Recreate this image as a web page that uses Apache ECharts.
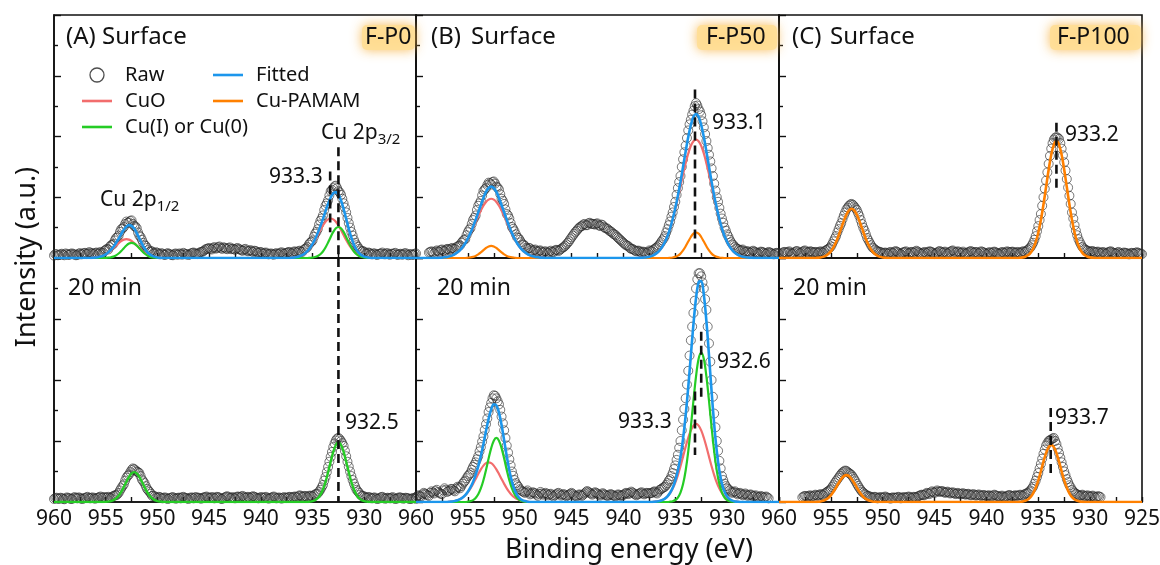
<!DOCTYPE html>
<html><head><meta charset="utf-8">
<script src="https://cdn.jsdelivr.net/npm/echarts/dist/echarts.min.js"></script>
<style>html,body{margin:0;padding:0;background:#fff}#c{width:1160px;height:565px}</style>
</head><body><div id="c"></div>
<script>
// Energy grid: 960 eV down to 925 eV, 0.25 eV per sample (141 samples).
// "mid" raw arrays are the readings half-way between grid samples (140 samples).
const E_START = 960, E_STEP = 0.25, E_MID = 0.125;
const xTicks = [960, 955, 950, 945, 940, 935, 930, 925];

// ---------- (A) F-P0 surface ----------
const rawA_s = [
.08,.12,.1,.14,.09,.13,.11,.15,.12,.1,
.16,.13,.17,.14,.18,.15,.17,.13,.2,.18,
.27,.28,.42,.47,.66,.74,.95,1.02,1.2,1.17,
1.24,1.05,.98,.74,.6,.42,.33,.2,.21,.15,
.17,.12,.14,.1,.16,.12,.09,.15,.11,.13,
.17,.12,.1,.15,.18,.14,.16,.2,.24,.3,
.33,.28,.36,.32,.38,.3,.34,.29,.35,.31,
.27,.33,.28,.24,.3,.22,.26,.2,.23,.17,
.2,.14,.18,.12,.15,.11,.16,.13,.19,.14,
.17,.2,.15,.22,.18,.24,.2,.3,.36,.5,
.58,.8,.95,1.22,1.4,1.72,1.9,2.2,2.3,2.38,
2.2,2.08,1.8,1.5,1.15,.86,.6,.42,.3,.22,
.2,.14,.17,.12,.15,.1,.14,.18,.12,.16,
.11,.13,.17,.1,.14,.12,.16,.09,.13,.11,
.15];
const midA_s = [
.13,.09,.12,.11,.15,.1,.14,.12,.09,.14,
.12,.16,.13,.19,.15,.13,.18,.16,.16,.24,
.3,.36,.43,.58,.68,.86,.97,1.12,1.16,1.22,
1.12,1.04,.84,.69,.5,.4,.26,.23,.16,.19,
.13,.16,.11,.14,.13,.1,.13,.12,.15,.11,
.14,.13,.12,.17,.15,.13,.19,.21,.28,.31,
.3,.33,.31,.36,.33,.35,.31,.33,.29,.3,
.31,.29,.25,.28,.25,.24,.22,.24,.19,.19,
.16,.17,.14,.14,.12,.14,.13,.17,.15,.16,
.19,.17,.19,.2,.22,.21,.26,.32,.44,.53,
.7,.86,1.1,1.3,1.58,1.8,2.06,2.24,2.36,2.3,
2.16,1.95,1.66,1.32,1.0,.74,.5,.37,.25,.23,
.16,.18,.13,.15,.12,.13,.15,.13,.15,.12,
.14,.15,.12,.13,.11,.15,.12,.12,.1,.14];
const fitA_s = [
0,0,0,0,0,0,0,0,0,0,
0,0,0,0,0,.008,.015,.027,.047,.076,
.122,.185,.267,.371,.496,.640,.788,.927,1.032,1.081,
1.059,.968,.822,.647,.474,.323,.204,.122,.069,.037,
.019,.008,0,0,0,0,0,0,0,0,
0,0,0,0,0,0,0,0,0,0,
0,0,0,0,0,0,0,0,0,0,
0,0,0,0,0,0,0,0,0,0,
0,0,0,0,0,0,0,0,0,0,
0,0,.01,.018,.033,.057,.094,.148,.224,.330,
.462,.626,.819,1.041,1.285,1.538,1.784,1.992,2.131,2.169,
2.090,1.896,1.613,1.287,.960,.670,.439,.270,.158,.088,
.046,.024,.01,0,0,0,0,0,0,0,
0,0,0,0,0,0,0,0,0,0,
0];
const cuoA_s = [
0,0,0,0,0,0,0,0,0,0,
0,0,0,0,0,.008,.015,.027,.047,.076,
.118,.175,.245,.325,.410,.492,.559,.605,.62,.605,
.559,.492,.410,.325,.245,.175,.118,.076,.047,.027,
.015,.008,0,0,0,0,0,0,0,0,
0,0,0,0,0,0,0,0,0,0,
0,0,0,0,0,0,0,0,0,0,
0,0,0,0,0,0,0,0,0,0,
0,0,0,0,0,0,0,0,0,0,
0,0,.01,.018,.033,.057,.094,.148,.224,.324,
.449,.595,.755,.919,1.070,1.192,1.273,1.3,1.273,1.192,
1.070,.919,.755,.595,.449,.324,.224,.148,.094,.057,
.033,.018,.01,0,0,0,0,0,0,0,
0,0,0,0,0,0,0,0,0,0,
0];
const cuiA_s = [
0,0,0,0,0,0,0,0,0,0,
0,0,0,0,0,0,0,0,0,0,
.004,.010,.022,.046,.086,.148,.229,.322,.412,.476,
.5,.476,.412,.322,.229,.148,.086,.046,.022,.010,
.004,0,0,0,0,0,0,0,0,0,
0,0,0,0,0,0,0,0,0,0,
0,0,0,0,0,0,0,0,0,0,
0,0,0,0,0,0,0,0,0,0,
0,0,0,0,0,0,0,0,0,0,
0,0,0,0,0,0,0,0,0,.006,
.013,.031,.064,.122,.215,.346,.511,.692,.858,.977,
1.02,.977,.858,.692,.511,.346,.215,.122,.064,.031,
.013,.006,0,0,0,0,0,0,0,0,
0,0,0,0,0,0,0,0,0,0,
0];

// ---------- (B) F-P50 surface ----------
const rawB_s = [
null,null,null,null,null,.18,.22,.15,.25,.2,
.28,.22,.3,.26,.33,.3,.38,.42,.55,.62,
.85,.98,1.25,1.4,1.72,1.88,2.2,2.3,2.48,2.42,
2.52,2.35,2.25,1.95,1.78,1.45,1.3,1.02,.88,.68,
.6,.45,.4,.3,.32,.22,.28,.2,.25,.18,
.22,.16,.24,.19,.27,.23,.3,.36,.45,.55,
.68,.8,.9,1.0,1.05,1.12,1.08,1.16,1.12,1.1,
1.14,1.05,1.08,.98,.95,.88,.8,.75,.66,.58,
.5,.42,.38,.3,.27,.22,.24,.18,.2,.16,
.25,.22,.3,.36,.45,.58,.72,.95,1.2,1.5,
1.85,2.3,2.7,3.25,3.7,4.2,4.55,4.85,5.1,4.9,
4.7,4.3,3.85,3.4,2.95,2.45,2.0,1.65,1.3,1.0,
.78,.6,.45,.36,.3,.24,.28,.2,.22,.17,
.24,.19,.15,.21,.18,.14,.2,.16,.12,.17,
.15];
const midB_s = [
null,null,null,null,null,.2,.19,.21,.22,.26,
.24,.27,.29,.31,.3,.35,.4,.5,.6,.75,
.93,1.12,1.32,1.58,1.8,2.06,2.26,2.4,2.46,2.5,
2.45,2.32,2.1,1.88,1.6,1.4,1.15,.96,.78,.66,
.52,.44,.34,.33,.26,.26,.23,.24,.2,.21,
.18,.21,.2,.24,.26,.27,.34,.4,.5,.62,
.74,.86,.96,1.04,1.1,1.08,1.14,1.13,1.12,1.13,
1.08,1.1,1.02,.98,.9,.85,.78,.7,.62,.54,
.46,.41,.33,.3,.24,.24,.2,.21,.17,.2,
.23,.27,.33,.41,.52,.64,.84,1.08,1.36,1.68,
2.08,2.5,3.0,3.48,3.95,4.4,4.72,5.0,5.02,4.82,
4.5,4.08,3.62,3.18,2.7,2.22,1.85,1.46,1.16,.9,
.7,.52,.42,.32,.28,.26,.23,.22,.19,.21,
.21,.17,.18,.2,.16,.17,.18,.14,.15,.16];
const fitB_s = [
0,0,0,0,0,0,0,0,0,.008,
.013,.022,.035,.056,.086,.128,.186,.263,.363,.486,
.642,.819,1.024,1.253,1.497,1.745,1.978,2.174,2.304,2.35,
2.304,2.174,1.978,1.745,1.497,1.253,1.024,.819,.642,.486,
.363,.263,.186,.128,.086,.056,.035,.022,.013,.008,
0,0,0,0,0,0,0,0,0,0,
0,0,0,0,0,0,0,0,0,0,
0,0,0,0,0,0,0,0,0,0,
0,0,0,0,0,0,.005,.008,.015,.026,
.043,.071,.112,.171,.256,.373,.527,.725,.977,1.284,
1.640,2.050,2.511,3.005,3.509,3.981,4.380,4.645,4.74,4.645,
4.380,3.981,3.509,3.005,2.511,2.050,1.640,1.284,.977,.725,
.527,.373,.256,.171,.112,.071,.043,.026,.015,.008,
.005,0,0,0,0,0,0,0,0,0,
0];
const cuoB_s = [
0,0,0,0,0,0,0,0,0,.008,
.013,.022,.035,.056,.086,.128,.186,.263,.363,.486,
.634,.801,.987,1.184,1.379,1.562,1.720,1.845,1.923,1.95,
1.923,1.845,1.720,1.562,1.379,1.184,.987,.801,.634,.486,
.363,.263,.186,.128,.086,.056,.035,.022,.013,.008,
0,0,0,0,0,0,0,0,0,0,
0,0,0,0,0,0,0,0,0,0,
0,0,0,0,0,0,0,0,0,0,
0,0,0,0,0,0,.005,.008,.015,.026,
.043,.071,.112,.171,.256,.373,.527,.725,.971,1.268,
1.603,1.973,2.367,2.757,3.124,3.440,3.689,3.845,3.9,3.845,
3.689,3.440,3.124,2.757,2.367,1.973,1.603,1.268,.971,.725,
.527,.373,.256,.171,.112,.071,.043,.026,.015,.008,
.005,0,0,0,0,0,0,0,0,0,
0];
const pamB_s = [
0,0,0,0,0,0,0,0,0,0,
0,0,0,0,0,0,0,0,0,0,
.008,.018,.037,.069,.118,.183,.258,.329,.381,.4,
.381,.329,.258,.183,.118,.069,.037,.018,.008,0,
0,0,0,0,0,0,0,0,0,0,
0,0,0,0,0,0,0,0,0,0,
0,0,0,0,0,0,0,0,0,0,
0,0,0,0,0,0,0,0,0,0,
0,0,0,0,0,0,0,0,0,0,
0,0,0,0,0,0,0,0,.006,.016,
.037,.077,.144,.248,.385,.541,.691,.8,.84,.8,
.691,.541,.385,.248,.144,.077,.037,.016,.006,0,
0,0,0,0,0,0,0,0,0,0,
0,0,0,0,0,0,0,0,0,0,
0];

// ---------- (C) F-P100 surface ----------
const rawC_s = [
null,.15,.2,.17,.22,.14,.19,.23,.16,.2,
.25,.18,.22,.19,.2,.17,.22,.18,.25,.3,
.38,.55,.72,.95,1.15,1.4,1.6,1.72,1.78,1.7,
1.58,1.38,1.12,.9,.66,.5,.35,.28,.22,.2,
.15,.18,.14,.2,.16,.23,.18,.13,.19,.22,
.15,.2,.17,.24,.18,.14,.2,.16,.22,.19,
.13,.18,.23,.17,.21,.15,.2,.25,.18,.22,
.16,.21,.14,.19,.23,.17,.2,.15,.22,.18,
.13,.19,.16,.21,.17,.14,.2,.16,.22,.18,
.21,.17,.2,.16,.22,.2,.27,.35,.5,.72,
1.05,1.45,2.0,2.55,3.1,3.6,3.9,3.98,3.92,3.6,
3.15,2.6,2.05,1.5,1.08,.75,.52,.36,.28,.24,
.2,.23,.18,.21,.16,.2,.14,.19,.22,.17,
.15,.2,.13,.18,.16,.12,.17,.14,.19,.15,
.13];
const midC_s = [
null,.18,.19,.2,.17,.16,.22,.19,.18,.23,
.21,.2,.21,.18,.19,.2,.19,.22,.27,.33,
.46,.64,.84,1.06,1.28,1.5,1.66,1.76,1.75,1.64,
1.48,1.25,1.0,.78,.58,.42,.32,.25,.21,.18,
.17,.16,.18,.18,.2,.2,.15,.17,.2,.18,
.18,.19,.21,.21,.16,.17,.18,.2,.21,.16,
.16,.21,.2,.19,.18,.18,.23,.21,.2,.19,
.18,.17,.17,.21,.2,.19,.18,.19,.2,.16,
.16,.18,.19,.19,.15,.17,.18,.19,.2,.2,
.19,.18,.18,.19,.21,.24,.31,.42,.6,.88,
1.25,1.72,2.28,2.82,3.36,3.78,3.96,3.96,3.78,3.38,
2.88,2.32,1.78,1.3,.9,.62,.44,.32,.26,.22,
.22,.2,.2,.18,.18,.17,.17,.21,.19,.16,
.18,.16,.15,.17,.14,.15,.16,.17,.17,.14];
const pamC_s = [
0,0,0,0,0,0,0,0,0,0,
0,0,0,0,0,.008,.018,.037,.071,.129,
.219,.350,.527,.742,.983,1.223,1.429,1.570,1.62,1.570,
1.429,1.223,.983,.742,.527,.350,.219,.129,.071,.037,
.018,.008,0,0,0,0,0,0,0,0,
0,0,0,0,0,0,0,0,0,0,
0,0,0,0,0,0,0,0,0,0,
0,0,0,0,0,0,0,0,0,0,
0,0,0,0,0,0,0,0,0,0,
0,0,0,.008,.02,.043,.088,.169,.306,.520,
.832,1.251,1.763,2.337,2.907,3.396,3.731,3.85,3.731,3.396,
2.907,2.337,1.763,1.251,.832,.520,.306,.169,.088,.043,
.02,.008,0,0,0,0,0,0,0,0,
0,0,0,0,0,0,0,0,0,0,
0];

// ---------- (A) F-P0 20 min ----------
const rawA_20 = [
.1,.14,.11,.13,.09,.15,.12,.1,.16,.12,
.14,.1,.13,.17,.12,.15,.11,.14,.18,.15,
.14,.17,.13,.2,.22,.3,.45,.58,.8,.9,
1.05,1.08,1.0,.95,.74,.62,.43,.33,.2,.18,
.14,.16,.12,.15,.1,.13,.16,.11,.14,.12,
.17,.13,.1,.15,.12,.16,.14,.11,.15,.18,
.13,.16,.12,.17,.14,.1,.15,.19,.13,.16,
.12,.18,.15,.2,.14,.17,.13,.19,.15,.12,
.16,.13,.17,.11,.14,.18,.12,.15,.11,.16,
.13,.17,.14,.18,.15,.22,.17,.2,.16,.21,
.18,.25,.28,.4,.56,.82,1.15,1.48,1.8,2.02,
2.1,2.0,1.84,1.5,1.16,.85,.6,.4,.3,.2,
.18,.14,.16,.12,.15,.1,.13,.17,.11,.14,
.12,.16,.1,.13,.15,.11,.14,.12,.1,.13,
.11];
const midA_20 = [
.13,.11,.14,.1,.12,.13,.1,.14,.13,.15,
.11,.12,.15,.13,.14,.12,.13,.16,.14,.16,
.15,.14,.17,.22,.25,.38,.52,.7,.86,.98,
1.1,1.04,.98,.85,.68,.52,.38,.27,.21,.15,
.17,.13,.14,.12,.12,.15,.13,.12,.14,.15,
.14,.12,.13,.14,.15,.13,.12,.14,.16,.15,
.14,.15,.14,.16,.11,.13,.17,.16,.14,.14,
.16,.17,.18,.16,.15,.15,.17,.17,.13,.14,
.15,.15,.13,.13,.16,.15,.13,.13,.14,.14,
.15,.16,.16,.17,.19,.2,.18,.19,.19,.2,
.22,.27,.34,.48,.7,.98,1.32,1.64,1.92,2.08,
2.06,1.93,1.68,1.32,1.0,.72,.5,.35,.24,.2,
.15,.16,.13,.14,.12,.11,.16,.13,.12,.13,
.14,.12,.11,.15,.13,.12,.13,.1,.12,.12];
const cuiA_20 = [
0,0,0,0,0,0,0,0,0,0,
0,0,0,0,0,0,0,0,0,0,
.005,.013,.029,.062,.118,.207,.332,.491,.664,.824,
.939,.98,.939,.824,.664,.491,.332,.207,.118,.062,
.029,.013,.005,0,0,0,0,0,0,0,
0,0,0,0,0,0,0,0,0,0,
0,0,0,0,0,0,0,0,0,0,
0,0,0,0,0,0,0,0,0,0,
0,0,0,0,0,0,0,0,0,0,
0,0,0,0,0,0,0,0,0,.011,
.026,.059,.122,.234,.411,.661,.977,1.322,1.640,1.868,
1.95,1.868,1.640,1.322,.977,.661,.411,.234,.122,.059,
.026,.011,0,0,0,0,0,0,0,0,
0,0,0,0,0,0,0,0,0,0,
0];

// ---------- (B) F-P50 20 min ----------
const rawB_20 = [
.15,.22,.18,.3,.25,.2,.35,.28,.4,.3,
.26,.45,.33,.38,.42,.35,.5,.45,.6,.7,
.85,.95,1.15,1.3,1.5,1.8,2.15,2.55,2.95,3.25,
3.5,3.4,3.2,2.8,2.35,1.85,1.4,1.0,.72,.55,
.42,.35,.3,.38,.25,.32,.28,.2,.33,.24,
.3,.22,.27,.18,.25,.3,.21,.26,.19,.24,
.3,.22,.18,.25,.2,.28,.36,.3,.24,.32,
.27,.21,.29,.23,.2,.26,.22,.18,.25,.2,
.23,.3,.26,.34,.28,.22,.27,.32,.25,.3,
.28,.3,.35,.28,.4,.45,.5,.62,.75,.95,
1.2,1.55,2.0,2.7,3.4,4.3,5.3,6.2,7.0,7.5,
7.4,7.0,6.3,5.2,4.0,2.9,2.0,1.35,.85,.6,
.45,.38,.3,.35,.25,.3,.22,.28,.2,.25,
.18,.22,.15,.2,.14,.18,.12,null,null,null,
null];
const midB_20 = [
.2,.19,.25,.27,.22,.3,.31,.36,.33,.27,
.38,.4,.36,.43,.38,.44,.48,.52,.66,.78,
.9,1.06,1.22,1.4,1.66,1.98,2.36,2.74,3.1,3.4,
3.48,3.3,3.02,2.58,2.1,1.62,1.2,.86,.62,.5,
.38,.33,.34,.31,.28,.3,.24,.27,.28,.27,
.26,.25,.22,.22,.28,.25,.24,.22,.22,.27,
.26,.2,.22,.23,.24,.32,.33,.27,.28,.3,
.24,.25,.26,.21,.23,.24,.2,.22,.23,.22,
.27,.28,.3,.31,.25,.25,.3,.28,.28,.29,
.29,.33,.31,.34,.42,.48,.56,.7,.85,1.08,
1.38,1.78,2.35,3.05,3.85,4.8,5.75,6.6,7.3,7.5,
7.2,6.65,5.75,4.6,3.45,2.45,1.68,1.1,.72,.52,
.42,.34,.33,.3,.28,.26,.25,.24,.23,.22,
.2,.18,.17,.17,.16,.15,null,null,null,null];
const fitB_20 = [
0,0,0,0,0,0,0,0,0,0,
0,0,0,.01,.018,.033,.057,.094,.148,.224,
.335,.477,.658,.887,1.171,1.513,1.904,2.325,2.724,3.039,
3.204,3.170,2.931,2.521,2.019,1.501,1.036,.667,.400,.226,
.120,.061,.029,.01,0,0,0,0,0,0,
0,0,0,0,0,0,0,0,0,0,
0,0,0,0,0,0,0,0,0,0,
0,0,0,0,0,0,0,0,0,0,
0,0,0,0,0,0,0,0,0,0,
0,0,.01,.019,.036,.065,.112,.185,.302,.466,
.702,1.030,1.480,2.075,2.844,3.768,4.803,5.828,6.681,7.200,
7.248,6.801,5.931,4.809,3.627,2.544,1.671,1.028,.600,.332,
.177,.091,.046,.019,.01,0,0,0,0,0,
0,0,0,0,0,0,0,0,0,0,
0];
const cuoB_20 = [
0,0,0,0,0,0,0,0,0,0,
0,0,0,.01,.018,.033,.057,.094,.148,.224,
.324,.449,.595,.755,.919,1.070,1.192,1.273,1.3,1.273,
1.192,1.070,.919,.755,.595,.449,.324,.224,.148,.094,
.057,.033,.018,.01,0,0,0,0,0,0,
0,0,0,0,0,0,0,0,0,0,
0,0,0,0,0,0,0,0,0,0,
0,0,0,0,0,0,0,0,0,0,
0,0,0,0,0,0,0,0,0,0,
0,0,.01,.019,.036,.065,.112,.185,.292,.440,
.637,.883,1.172,1.487,1.810,2.107,2.348,2.506,2.56,2.506,
2.348,2.107,1.810,1.487,1.172,.883,.637,.440,.292,.185,
.112,.065,.036,.019,.01,0,0,0,0,0,
0,0,0,0,0,0,0,0,0,0,
0];
const cuiB_20 = [
0,0,0,0,0,0,0,0,0,0,
0,0,0,0,0,0,0,0,0,0,
.011,.028,.063,.132,.252,.443,.712,1.052,1.424,1.766,
2.012,2.1,2.012,1.766,1.424,1.052,.712,.443,.252,.132,
.063,.028,.011,0,0,0,0,0,0,0,
0,0,0,0,0,0,0,0,0,0,
0,0,0,0,0,0,0,0,0,0,
0,0,0,0,0,0,0,0,0,0,
0,0,0,0,0,0,0,0,0,0,
0,0,0,0,0,0,0,0,.01,.026,
.065,.147,.308,.588,1.034,1.661,2.455,3.322,4.121,4.694,
4.9,4.694,4.121,3.322,2.455,1.661,1.034,.588,.308,.147,
.065,.026,.01,0,0,0,0,0,0,0,
0,0,0,0,0,0,0,0,0,0,
0];

// ---------- (C) F-P100 20 min ----------
const rawC_20 = [
null,null,null,null,null,null,null,null,null,.15,
.2,.17,.22,.18,.24,.2,.26,.22,.3,.36,
.42,.55,.68,.8,.92,1.0,1.02,.95,.88,.75,
.6,.46,.34,.27,.2,.18,.14,.17,.12,.16,
.13,.18,.14,.11,.15,.13,.17,.12,.16,.14,
.18,.13,.17,.15,.2,.24,.22,.3,.26,.35,
.3,.38,.33,.36,.3,.34,.28,.32,.26,.3,
.25,.29,.24,.27,.22,.26,.21,.25,.2,.23,
.19,.22,.18,.24,.2,.17,.21,.16,.2,.23,
.18,.22,.2,.24,.2,.27,.3,.38,.5,.7,
.95,1.25,1.58,1.85,2.0,2.05,2.1,1.9,1.6,1.3,
1.0,.75,.55,.4,.3,.25,.2,.24,.18,.22,
.17,.21,.15,.19,.16,null,null,null,null,null,
null,null,null,null,null,null,null,null,null,null,
null];
const midC_20 = [
null,null,null,null,null,null,null,null,null,.18,
.19,.2,.19,.21,.22,.23,.24,.27,.33,.39,
.49,.62,.74,.86,.97,1.03,.98,.92,.82,.68,
.53,.4,.31,.24,.2,.16,.16,.15,.14,.15,
.16,.15,.13,.14,.14,.15,.15,.14,.15,.16,
.16,.15,.16,.18,.22,.23,.26,.28,.31,.32,
.34,.35,.35,.33,.32,.31,.3,.29,.28,.27,
.27,.26,.26,.24,.24,.23,.23,.22,.22,.21,
.21,.2,.21,.22,.19,.19,.18,.18,.22,.2,
.2,.21,.22,.22,.24,.28,.34,.44,.6,.82,
1.1,1.42,1.72,1.93,2.03,2.08,2.0,1.75,1.45,1.15,
.88,.65,.48,.35,.27,.22,.22,.21,.2,.19,
.19,.18,.17,.18,null,null,null,null,null,null,
null,null,null,null,null,null,null,null,null,null];
const pamC_20 = [
0,0,0,0,0,0,0,0,0,0,
0,0,0,0,0,.008,.019,.039,.075,.133,
.219,.335,.474,.622,.754,.847,.88,.847,.754,.622,
.474,.335,.219,.133,.075,.039,.019,.008,0,0,
0,0,0,0,0,0,0,0,0,0,
0,0,0,0,0,0,0,0,0,0,
0,0,0,0,0,0,0,0,0,0,
0,0,0,0,0,0,0,0,0,0,
0,0,0,0,0,0,0,0,0,0,
0,0,0,.007,.018,.039,.082,.158,.282,.466,
.712,1.008,1.322,1.603,1.799,1.87,1.799,1.603,1.322,1.008,
.712,.466,.282,.158,.082,.039,.018,.007,0,0,
0,0,0,0,0,0,0,0,0,0,
0,0,0,0,0,0,0,0,0,0,
0];

// Reference (dashed) lines: panel, energy, from intensity, to intensity
const refPanel = [0, 0, 3, 1, 4, 4, 2, 5];
const refEnergy = [932.5, 933.3, 932.5, 933.1, 932.5, 933.1, 933.25, 933.8];
const refFrom = [3.65, 2.85, 8, 5.55, 5.58, 3.62, 4.45, 3.08];
const refTo = [0, 0.85, 0, 0, 3.4, 1.54, 2.22, 0.89];

// ---------- styling / layout ----------
const FONT = 'Noto Sans';
const COL = { blue: '#1c96ec', red: '#f26d6d', green: '#25cc25', orange: '#ff8000' };
const colLeft = [54, 416, 779], colWidth = [362, 363, 363];
const rowTop = [15, 258], rowHeight = [243, 244];

function pairs(arr, offset) {
  const out = [];
  arr.forEach((v, i) => { if (v !== null) out.push([E_START - offset - E_STEP * i, v]); });
  return out;
}

const panels = [
  { raw: rawA_s, mid: midA_s, lines: [['Fitted', fitA_s, COL.blue, 2.6], ['CuO', cuoA_s, COL.red, 2.2], ['Cu(I) or Cu(0)', cuiA_s, COL.green, 2.2]] },
  { raw: rawB_s, mid: midB_s, lines: [['Fitted', fitB_s, COL.blue, 2.6], ['CuO', cuoB_s, COL.red, 2.2], ['Cu-PAMAM', pamB_s, COL.orange, 2.2]] },
  { raw: rawC_s, mid: midC_s, lines: [['Cu-PAMAM', pamC_s, COL.orange, 2.6]] },
  { raw: rawA_20, mid: midA_20, lines: [['Cu(I) or Cu(0)', cuiA_20, COL.green, 2.4]] },
  { raw: rawB_20, mid: midB_20, lines: [['Fitted', fitB_20, COL.blue, 2.6], ['CuO', cuoB_20, COL.red, 2.2], ['Cu(I) or Cu(0)', cuiB_20, COL.green, 2.2]] },
  { raw: rawC_20, mid: midC_20, lines: [['Cu-PAMAM', pamC_20, COL.orange, 2.6]] }
];

const rawStyle = { color: 'rgba(255,255,255,0)', borderColor: '#2a2a2a', borderWidth: 0.8 };
const grids = [], xAxes = [], yAxes = [], series = [];
for (let g = 0; g < 6; g++) {
  const r = Math.floor(g / 3), c = g % 3;
  grids.push({ left: colLeft[c], top: rowTop[r], width: colWidth[c], height: rowHeight[r],
    show: true, borderColor: '#111', borderWidth: 1.6, backgroundColor: 'transparent', outerBoundsMode: 'none', containLabel: false });
  xAxes.push({ type: 'value', gridIndex: g, min: 925, max: 960, interval: 5, inverse: true,
    axisLine: { show: true, onZero: false, lineStyle: { color: '#111', width: 1.6 } },
    axisTick: { show: true, inside: true, length: 5, lineStyle: { color: '#111', width: 1.4 } },
    minorTick: { show: true, splitNumber: 2, length: 5, lineStyle: { color: '#111', width: 1.4 } },
    splitLine: { show: false },
    axisLabel: { show: r === 1, showMinLabel: c === 2, fontSize: 21, color: '#111', fontFamily: FONT, margin: 7,
      formatter: v => (xTicks.indexOf(v) >= 0 ? String(v) : '') }
  });
  yAxes.push({ type: 'value', gridIndex: g, min: 0, max: 8, interval: 2,
    axisLine: { show: true, lineStyle: { color: '#111', width: 1.6 } },
    axisTick: { show: true, inside: true, length: 7, lineStyle: { color: '#111', width: 1.4 } },
    minorTick: { show: true, splitNumber: 2, length: 4, lineStyle: { color: '#111', width: 1.4 } },
    splitLine: { show: false }, axisLabel: { show: false }
  });
  const p = panels[g];
  series.push({ type: 'scatter', name: 'Raw', xAxisIndex: g, yAxisIndex: g, data: pairs(p.raw, 0),
    symbol: 'circle', symbolSize: 9, z: 2, silent: true, itemStyle: rawStyle });
  series.push({ type: 'scatter', name: 'Raw', xAxisIndex: g, yAxisIndex: g, data: pairs(p.mid, E_MID),
    symbol: 'circle', symbolSize: 9, z: 2, silent: true, itemStyle: rawStyle });
  p.lines.forEach(([name, arr, color, w], k) => {
    series.push({ type: 'line', name, xAxisIndex: g, yAxisIndex: g, data: pairs(arr, 0),
      symbol: 'none', showSymbol: false, smooth: 0.35, z: name === 'Fitted' ? 4 : 3 + k * 0.1, silent: true,
      lineStyle: { color, width: w }, itemStyle: { color } });
  });
}
refPanel.forEach((g, i) => {
  series.push({ type: 'line', name: 'ref' + i, xAxisIndex: g, yAxisIndex: g,
    data: [[refEnergy[i], refFrom[i]], [refEnergy[i], refTo[i]]],
    symbol: 'none', z: 6, silent: true, lineStyle: { color: '#111', width: 2.6, type: [9, 5] } });
});

// text annotations (layout)
const T = (text, x, y, size) => ({ type: 'text', x, y, z: 20, silent: true,
  style: { text, fill: '#111', fontSize: size, fontFamily: FONT, align: 'left', verticalAlign: 'middle' } });
const SUB = (main, sub, x, y) => ({ type: 'text', x, y, z: 20, silent: true,
  style: { text: '{a|' + main + '}{b|' + sub + '}', fill: '#111', align: 'left', verticalAlign: 'middle',
    rich: { a: { fontSize: 21, fontFamily: FONT, lineHeight: 28, fill: '#111' },
            b: { fontSize: 15, fontFamily: FONT, lineHeight: 15, verticalAlign: 'bottom', fill: '#111' } } } });
const GLOW = (x, y, w, h) => ({ type: 'rect', z: 15, silent: true, shape: { x, y, width: w, height: h, r: 5 },
  style: { fill: 'rgba(255,222,150,0.92)', shadowBlur: 12, shadowColor: 'rgba(247,178,66,0.95)' } });

const graphic = [
  GLOW(362, 25, 53, 25), GLOW(697, 25, 80, 25), GLOW(1050, 25, 91, 25),
  T('(A) Surface', 66, 37, 24), T('(B)', 431, 37, 24), T('Surface', 471, 37, 24),
  T('(C)', 792, 37, 24), T('Surface', 830, 37, 24),
  T('F-P0', 365, 37, 23), T('F-P50', 706, 37, 23), T('F-P100', 1057, 37, 23),
  T('20 min', 68, 288, 23), T('20 min', 437, 288, 23), T('20 min', 793, 288, 23),
  SUB('Cu 2p', '3/2', 321, 133), SUB('Cu 2p', '1/2', 100, 200),
  T('933.3', 269, 177, 21), T('932.5', 345, 423, 21),
  T('933.1', 712, 123, 21), T('932.6', 717, 362, 21), T('933.3', 618, 422, 21),
  T('933.2', 1065, 135, 21), T('933.7', 1055, 418, 21),
  { type: 'text', x: 629, y: 550, z: 20, silent: true,
    style: { text: 'Binding energy (eV)', fill: '#111', fontSize: 27, fontFamily: FONT, align: 'center', verticalAlign: 'middle' } },
  { type: 'text', x: 27, y: 257, rotation: Math.PI / 2, z: 20, silent: true,
    style: { text: 'Intensity (a.u.)', fill: '#111', fontSize: 27, fontFamily: FONT, align: 'center', verticalAlign: 'middle' } }
];

const LINE_ICON = 'path://M0,0H30V2.6H0Z';
const legendCommon = { orient: 'vertical', top: 65, itemWidth: 30, itemHeight: 14, itemGap: 6, padding: 0,
  selectedMode: false, textStyle: { fontSize: 20, color: '#111', fontFamily: FONT, padding: [0, 0, 0, 8] } };

const chart = echarts.init(document.getElementById('c'), null, { renderer: 'canvas' });
chart.setOption({
  animation: false,
  backgroundColor: '#fff',
  textStyle: { fontFamily: FONT },
  grid: grids, xAxis: xAxes, yAxis: yAxes, series,
  legend: [
    Object.assign({}, legendCommon, { left: 82, data: [
      { name: 'Raw', icon: 'circle', itemStyle: { color: 'rgba(255,255,255,0)', borderColor: '#222', borderWidth: 1.3 } },
      { name: 'CuO', icon: LINE_ICON, itemStyle: { color: COL.red, borderWidth: 0 } },
      { name: 'Cu(I) or Cu(0)', icon: LINE_ICON, itemStyle: { color: COL.green, borderWidth: 0 } }] }),
    Object.assign({}, legendCommon, { left: 213, data: [
      { name: 'Fitted', icon: LINE_ICON, itemStyle: { color: COL.blue, borderWidth: 0 } },
      { name: 'Cu-PAMAM', icon: LINE_ICON, itemStyle: { color: COL.orange, borderWidth: 0 } }] })
  ],
  graphic
});
</script></body></html>
